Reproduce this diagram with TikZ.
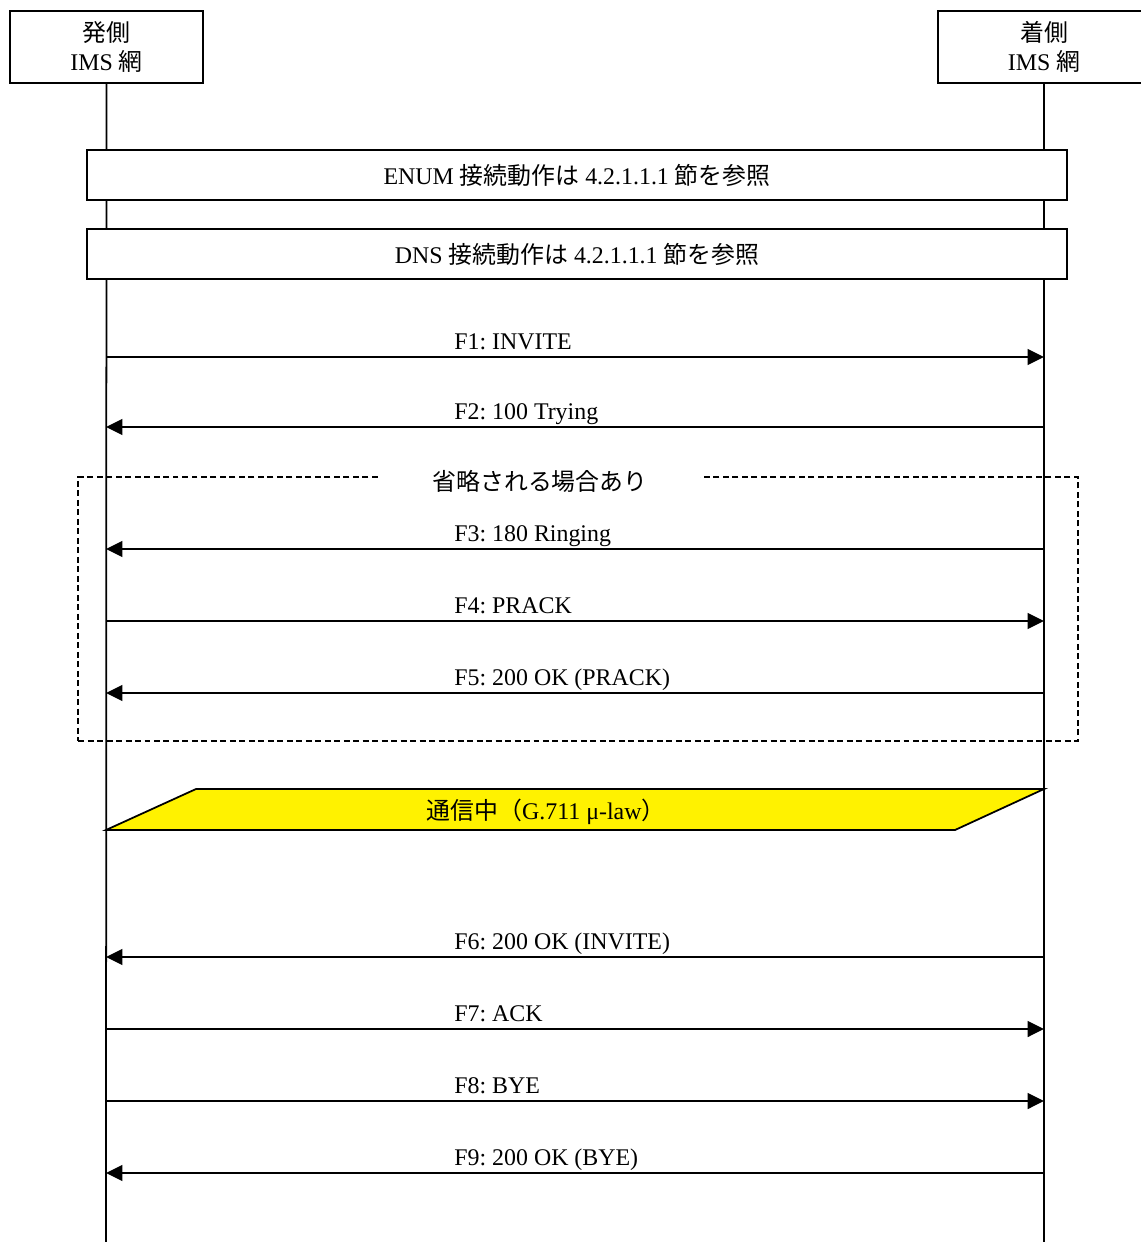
\documentclass[tikz,border=0pt]{standalone}
\usepackage{fontspec}
\setmainfont{Liberation Serif}
\newfontfamily\jp{Noto Sans CJK JP}
\usetikzlibrary{positioning, arrows.meta}

\newcommand{\ja}[1]{{\jp #1}}

\begin{document}
\frenchspacing
\begin{tikzpicture}[x=0.02cm, y=-0.02cm, font=\fontsize{13.6}{16.5}\selectfont,
  entity/.style={draw, line width=1pt, minimum height=1.44cm, align=center, inner sep=0pt},
  life/.style={line width=1pt},
  notebox/.style={draw, line width=1pt, fill=white, minimum width=19.6cm, minimum height=1cm, inner sep=0pt},
  msg/.style={line width=1pt, -{Triangle[length=0.33cm, width=0.32cm]}},
  lbl/.style={anchor=base west, inner sep=0pt}]
  \useasboundingbox (0,0) rectangle (1141,1242);
  \clip (0,0) rectangle (1141,1242);

  % entities
  \node[entity, minimum width=3.86cm] (orig) at (106.5,47) {\ja{発側}\\IMS \ja{網}};
  \node[entity, minimum width=4.24cm] (term) at (1044,47) {\ja{着側}\\IMS \ja{網}};
  \coordinate (orig-end) at (106,1242);
  \coordinate (term-end) at (1044,1242);
  \draw[life] (orig.south) -- (orig-end);
  \draw[life] (term.south) -- (term-end);

  % notes
  \node[notebox] (enum) at (577,175) {ENUM \ja{接続動作は} 4.2.1.1.1 \ja{節を参照}};
  \node[notebox] (dns) at (577,254) {DNS \ja{接続動作は} 4.2.1.1.1 \ja{節を参照}};

  % optional part
  \node[draw, line width=1.2pt, dash pattern=on 3.4pt off 2pt, minimum width=20cm, minimum height=5.28cm] (opt) at (578,609) {};
  \node[fill=white, minimum width=6.4cm, inner ysep=1pt] (optlbl) at (540,481) {\ja{省略される場合あり}};

  % talking
  \coordinate (talk-a) at (106,830);
  \coordinate (talk-b) at (196,789);
  \coordinate (talk-c) at (1044,789);
  \coordinate (talk-d) at (955,830);
  \draw[line width=1pt, fill=yellow] (talk-a) -- (talk-b) -- (talk-c) -- (talk-d) -- cycle;
  \node (talk) at (546,812) {\ja{通信中（}G.711 μ-law\ja{）}};

  % message ends
  \coordinate (o1) at (106,357);  \coordinate (t1) at (1044,357);
  \coordinate (o2) at (106,427);  \coordinate (t2) at (1044,427);
  \coordinate (o3) at (106,549);  \coordinate (t3) at (1044,549);
  \coordinate (o4) at (106,621);  \coordinate (t4) at (1044,621);
  \coordinate (o5) at (106,693);  \coordinate (t5) at (1044,693);
  \coordinate (o6) at (106,957);  \coordinate (t6) at (1044,957);
  \coordinate (o7) at (106,1029); \coordinate (t7) at (1044,1029);
  \coordinate (o8) at (106,1101); \coordinate (t8) at (1044,1101);
  \coordinate (o9) at (106,1173); \coordinate (t9) at (1044,1173);

  % messages
  \draw[msg] (o1) -- (t1);
  \draw[msg] (t2) -- (o2);
  \draw[msg] (t3) -- (o3);
  \draw[msg] (o4) -- (t4);
  \draw[msg] (t5) -- (o5);
  \draw[msg] (t6) -- (o6);
  \draw[msg] (o7) -- (t7);
  \draw[msg] (o8) -- (t8);
  \draw[msg] (t9) -- (o9);

  \node[lbl] (f1) at (454,349) {F1: INVITE};
  \node[lbl] (f2) at (454,419) {F2: 100 Trying};
  \node[lbl] (f3) at (454,541) {F3: 180 Ringing};
  \node[lbl] (f4) at (454,613) {F4: PRACK};
  \node[lbl] (f5) at (454,685) {F5: 200 OK (PRACK)};
  \node[lbl] (f6) at (454,949) {F6: 200 OK (INVITE)};
  \node[lbl] (f7) at (454,1021) {F7: ACK};
  \node[lbl] (f8) at (454,1093) {F8: BYE};
  \node[lbl] (f9) at (454,1165) {F9: 200 OK (BYE)};
\end{tikzpicture}
\end{document}
